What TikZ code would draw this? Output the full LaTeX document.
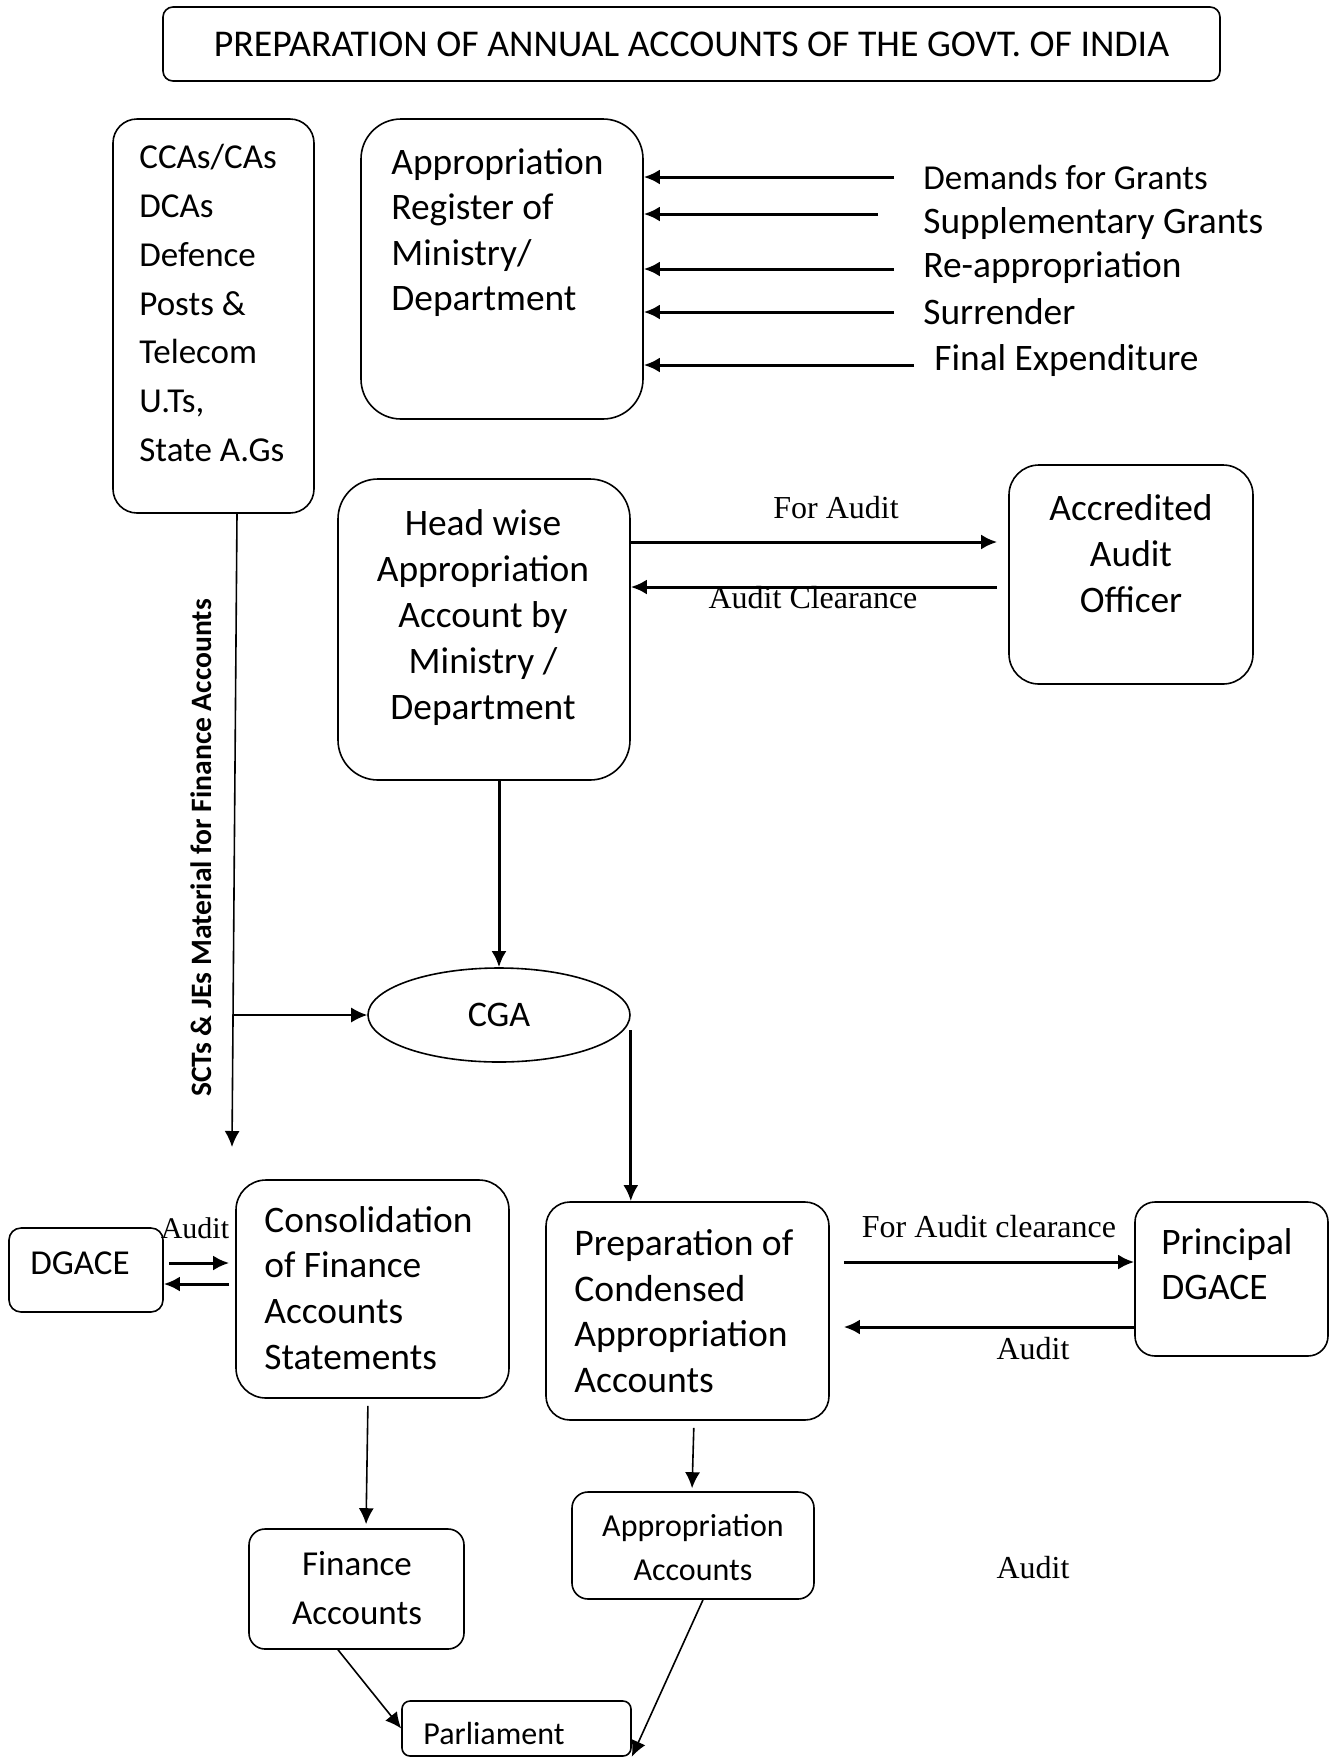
\documentclass[tikz,border=0pt]{standalone}
\usepackage{fontspec}
\setmainfont{Carlito}
\newfontfamily\timesfont{Liberation Serif}
\usetikzlibrary{shapes.geometric,calc,arrows.meta}

\begin{document}
\begin{tikzpicture}[x=0.5pt,y=-0.5pt,>={Latex[length=8pt,width=7.5pt]},
    box/.style={draw,line width=0.8pt,rounded corners=#1,inner sep=0pt},
    box/.default=12pt,
    txt/.style={inner sep=0pt,font=\fontsize{18.7}{22.7}\selectfont},
    lbl/.style={inner sep=0pt,font=\timesfont\fontsize{16}{18}\selectfont},
    thk/.style={->,line width=1.5pt},
    thn/.style={->,line width=0.8pt}]

  \useasboundingbox (0,0) rectangle (1338,1758);

  % title
  \node[box=5pt,minimum width=528.5pt,minimum height=37pt,font=\fontsize{18.9}{22}\selectfont] (title) at (691.5,44) {PREPARATION OF ANNUAL ACCOUNTS OF THE GOVT. OF INDIA};

  % top row
  \node[box,minimum width=100.5pt,minimum height=197pt] (cca) at (213.5,316) {};
  \node[txt,anchor=north west,align=left,font=\fontsize{17.5}{24.4}\selectfont] (ccaT) at (139,144) {CCAs/CAs\\DCAs\\Defence\\Posts \&\\Telecom\\U.Ts,\\State A.Gs};

  \node[box=20pt,minimum width=141pt,minimum height=150pt] (reg) at (502,269) {};
  \node[txt,anchor=north west,align=left] (regT) at (391,148) {Appropriation\\Register of\\Ministry/\\Department};

  \node[txt,anchor=west,font=\fontsize{17.5}{21}\selectfont] (dem) at (923,177) {Demands for Grants};
  \node[txt,anchor=west] (sup) at (923,224) {Supplementary Grants};
  \node[txt,anchor=west] (rea) at (923,268) {Re-appropriation};
  \node[txt,anchor=west] (sur) at (923,312) {Surrender};
  \node[txt,anchor=west] (fexp) at (934,361) {Final Expenditure};

  \coordinate (demA) at (894,177);
  \coordinate (supA) at (878,214);
  \coordinate (reaA) at (894,269);
  \coordinate (surA) at (894,312);
  \coordinate (fexpA) at (914,365);
  \draw[thk] (demA) -- (reg.east |- demA);
  \draw[thk] (supA) -- (reg.east |- supA);
  \draw[thk] (reaA) -- (reg.east |- reaA);
  \draw[thk] (surA) -- (reg.east |- surA);
  \draw[thk] (fexpA) -- (reg.east |- fexpA);

  % head wise account and audit
  \node[box=20pt,minimum width=146pt,minimum height=150.5pt] (head) at (484,629.5) {};
  \node[txt,anchor=north,align=center,font=\fontsize{18.7}{23}\selectfont] (headT) at (483,509) {Head wise\\Appropriation\\Account by\\Ministry /\\Department};

  \node[box=15pt,minimum width=122pt,minimum height=109.5pt] (aao) at (1131,574.5) {};
  \node[txt,anchor=north,align=center,font=\fontsize{18.7}{23}\selectfont] (aaoT) at (1131,494) {Accredited\\Audit\\Officer};

  \draw[thk,shorten >=5.5pt] (head.east |- 0,542) -- (aao.west |- 0,542);
  \draw[thk,shorten <=5.5pt] (aao.west |- 0,587) -- (head.east |- 0,587);
  \node[lbl] (faL) at (836,508) {For Audit};
  \node[lbl] (acL) at (813,598) {Audit Clearance};

  % CGA
  \node[draw,ellipse,line width=0.8pt,minimum width=131pt,minimum height=47pt,inner sep=0pt,font=\fontsize{18}{21}\selectfont] (cga) at (499,1015) {CGA};
  \draw[thk] (cga.north |- head.south) -- (cga.north);

  \coordinate (sctE) at (232,1147);
  \draw[thn] (cca.south -| 237,0) -- (sctE);
  \draw[thn] (cga.west -| 233,0) -- (cga.west);
  \node[inner sep=0pt,rotate=90,font=\bfseries\fontsize{14.8}{17}\selectfont] (sctL) at (201,848) {SCTs \& JEs Material for Finance Accounts};

  % lower part
  \node[box=6pt,minimum width=77pt,minimum height=42pt] (dgace) at (86,1270) {};
  \node[txt,font=\fontsize{17.5}{21}\selectfont] (dgaceT) at (80,1263) {DGACE};

  \node[box=15pt,minimum width=136.5pt,minimum height=109pt] (cons) at (372.5,1289) {};
  \node[txt,anchor=north west,align=left,font=\fontsize{18.7}{22.8}\selectfont] (consT) at (264,1206) {Consolidation\\of Finance\\Accounts\\Statements};

  \draw[thk,shorten <=2.5pt,shorten >=3pt] (dgace.east |- 0,1263) -- (cons.west |- 0,1263);
  \draw[thk,shorten <=3pt] (cons.west |- 0,1284) -- (dgace.east |- 0,1284);
  \node[lbl,font=\timesfont\fontsize{15}{17}\selectfont] (auL) at (195,1228) {Audit};

  \node[box=12pt,minimum width=141.5pt,minimum height=109pt] (prep) at (687.5,1311) {};
  \node[txt,anchor=north west,align=left,font=\fontsize{18.8}{22.8}\selectfont] (prepT) at (574,1229) {Preparation of\\Condensed\\Appropriation\\Accounts};
  \draw[thk] (cga.east |- 0,1030) -- (cga.east |- prep.north);

  \node[box=10pt,minimum width=96.5pt,minimum height=77pt] (pdg) at (1231.5,1279) {};
  \node[txt,anchor=north west,align=left,font=\fontsize{18.7}{22.5}\selectfont] (pdgT) at (1161,1228) {Principal\\DGACE};

  \draw[thk,shorten <=7pt] (prep.east |- 0,1262) -- (pdg.west |- 0,1262);
  \draw[thk,shorten >=7pt] (pdg.west |- 0,1327) -- (prep.east |- 0,1327);
  \node[lbl] (facL) at (989,1227) {For Audit clearance};
  \node[lbl] (auL2) at (1033,1349) {Audit};
  \node[lbl] (auL3) at (1033,1568) {Audit};

  \node[box=8pt,minimum width=107.5pt,minimum height=60pt] (fin) at (356.5,1589) {};
  \node[txt,anchor=north,align=center,font=\fontsize{17.5}{24.5}\selectfont] (finT) at (357,1551) {Finance\\Accounts};

  \node[box=8pt,minimum width=121pt,minimum height=53.5pt] (app) at (693,1545.5) {};
  \node[txt,anchor=north,align=center,font=\fontsize{16}{22}\selectfont] (appT) at (693,1514) {Appropriation\\Accounts};

  \node[box=4pt,minimum width=114.5pt,minimum height=27.5pt] (parl) at (516.5,1728.5) {};
  \node[txt,anchor=west,font=\fontsize{16}{19}\selectfont] (parlT) at (423,1733) {Parliament};

  \draw[thn,shorten <=3.5pt,shorten >=2pt] (cons.south -| 368,0) -- (fin.north -| 366,0);
  \draw[thn,shorten <=3.5pt,shorten >=1.5pt] (prep.south -| 694,0) -- (app.north -| 692,0);
  \draw[thn] (fin.south -| 338,0) -- (parl.west);
  \draw[thn] (app.south -| 703,0) -- (parl.south east);
\end{tikzpicture}
\end{document}
